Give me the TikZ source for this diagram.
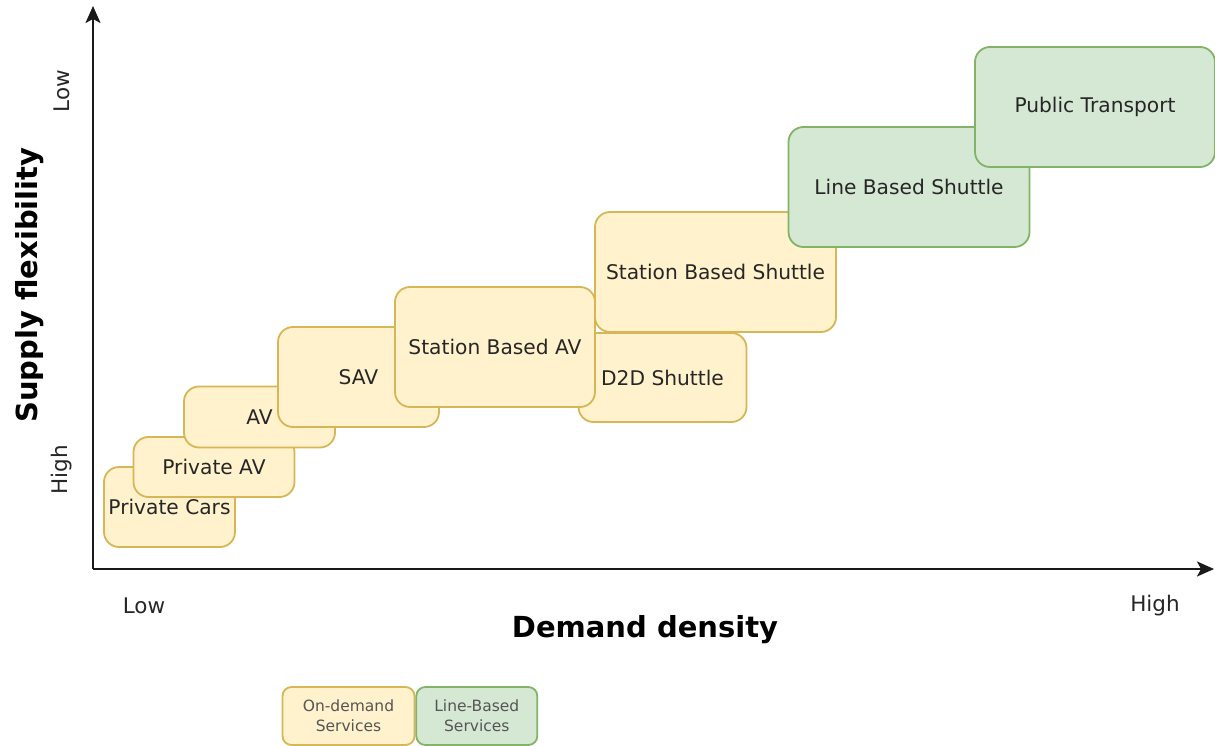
\documentclass[tikz,border=0pt]{standalone}
\usepackage{fontspec}
\setmainfont{DejaVu Sans}
\usepackage{tikz}
\usetikzlibrary{positioning, arrows.meta}

\definecolor{demandfill}{HTML}{FFF2CC}
\definecolor{demanddraw}{HTML}{D6B656}
\definecolor{linefill}{HTML}{D5E8D4}
\definecolor{linedraw}{HTML}{82B366}
\definecolor{axiscol}{HTML}{1A1A1A}
\definecolor{legendtext}{HTML}{555555}

\begin{document}
\begin{tikzpicture}[x=1pt, y=-1pt,
	mode/.style={rounded corners=15pt, line width=1.8pt, inner sep=0pt, align=center, text=black!85, font=\fontsize{20.2}{24}\selectfont},
	ondemand/.style={mode, draw=demanddraw, fill=demandfill},
	linebased/.style={mode, draw=linedraw, fill=linefill},
	legend/.style={rounded corners=9pt, line width=1.8pt, inner sep=0pt, align=center, text=legendtext, font=\fontsize{15.5}{20}\selectfont},
	axis/.style={-{Stealth[length=17pt, width=15pt, inset=4pt]}, line width=2.2pt, draw=axiscol},
	axislabel/.style={font=\bfseries\fontsize{29}{34}\selectfont, text=black},
	tick/.style={font=\fontsize{21.5}{26}\selectfont, text=black!85}]

	\useasboundingbox (0,0) rectangle (1215,746);

	% axes
	\coordinate (origin) at (93,569);
	\coordinate (ytip) at (93,6);
	\coordinate (xtip) at (1214,569);
	\draw[axis] (origin) -- (ytip);
	\draw[axis] (origin) -- (xtip);

	\node[axislabel, rotate=90] (ylabel) at (30,285) {Supply flexibility};
	\node[axislabel] (xlabel) at (645,630) {Demand density};
	\node[tick, rotate=90] (ylow) at (62,91) {Low};
	\node[tick, rotate=90] (yhigh) at (62,470) {High};
	\node[tick] (xlow) at (144,606) {Low};
	\node[tick] (xhigh) at (1155,606) {High};

	% services, back to front
	\foreach \name/\cx/\cy/\w/\h/\txt in {cars/169.5/507/131/80/Private Cars, privav/214/467/161/60/Private AV, av/259.5/417/151/61/AV, sav/358.5/377/161/100/SAV, dtod/662.5/377.5/168/89/D2D Shuttle, sbshuttle/715.5/272/241/120/Station Based Shuttle, sbav/495/347/200/120/Station Based AV}
	{
		\node[ondemand, minimum width=\w, minimum height=\h] (\name) at (\cx,\cy) {\txt};
	}
	\node[linebased, minimum width=241, minimum height=120] (lbshuttle) at (909,187) {Line Based Shuttle};
	\node[linebased, minimum width=240, minimum height=120] (pt) at (1095,107) {Public Transport};

	% legend
	\node[legend, draw=demanddraw, fill=demandfill, minimum width=132, minimum height=58] (legdemand) at (348.5,716) {On-demand\\Services};
	\node[legend, draw=linedraw, fill=linefill, minimum width=121, minimum height=58, right=0pt of legdemand] (legline) {Line-Based\\Services};

\end{tikzpicture}
\end{document}
